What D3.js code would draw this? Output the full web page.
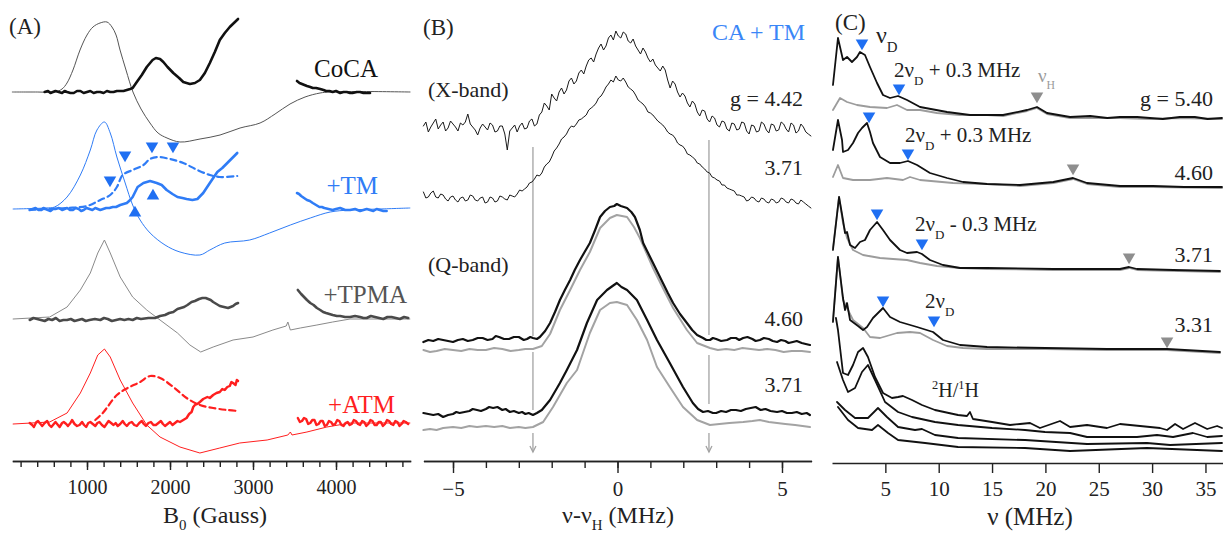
<!DOCTYPE html>
<html><head><meta charset="utf-8">
<script src="https://cdn.jsdelivr.net/npm/d3@7"></script>
<style>body{margin:0;background:#fff} text{font-family:"Liberation Serif","Times New Roman",Tinos,serif}</style>
</head><body><svg id="c" width="1223" height="535"></svg>
<script>
// ---------------- Panel A data: B0 (Gauss), intensity relative to each trace's baseline
const aOffsets = {CoCA:369, TM:252, TPMA:142, ATM:37};
const cocaThin = [[100,0],[400,0],[614,0],[699,3],[759,9],[831,22],[916,42],[1000,57],[1072,65],[1157,69],[1241,70],[1301,65],[1350,57],[1398,42],[1470,22],[1554,0],[1651,-17],[1759,-31],[1856,-41],[1964,-46],[2121,-50],[2362,-47],[2603,-43],[2844,-36],[3085,-31],[3266,-22],[3446,-12],[3627,-5],[3808,-1],[3928,0],[4290,0.5],[4892,0]];
const cocaThick1 = [[490,0],[530,1],[560,-1],[590,0],[620,1],[660,0],[700,-1],[730,1],[760,0],[800,-1],[840,-1],[880,1],[920,1],[960,-1],[1000,0],[1040,1],[1080,-1],[1120,0],[1160,0],[1200,-1],[1240,1],[1280,0],[1320,0],[1360,1],[1400,1],[1440,1],[1480,2],[1520,3],[1550,4],[1600,10],[1660,17],[1720,25],[1790,32],[1830,34],[1880,33],[1920,30],[1970,25],[2040,19],[2110,14],[2160,10],[2240,8],[2300,9],[2360,12],[2420,19],[2480,29],[2540,40],[2600,52],[2660,59],[2720,65],[2770,69],[2820,73]];
const cocaThick2 = [[3530,11],[3560,9],[3590,8],[3620,7],[3650,6],[3690,5],[3720,4],[3760,4],[3810,3],[3850,2],[3880,1],[3920,1],[3960,0],[4000,1],[4050,-1],[4090,0],[4130,0],[4170,-1],[4200,-1],[4250,0],[4290,0],[4330,-1],[4370,-1],[4410,-1]];
const tmThin = [[110,0],[500,1],[610,2],[760,12],[920,34],[1040,59],[1120,79],[1210,87],[1280,76],[1360,52],[1460,26],[1550,4],[1640,-11],[1760,-24],[1940,-36],[2120,-43],[2360,-46],[2480,-41],[2660,-34],[2960,-31],[3200,-24],[3450,-16],[3690,-9],[3930,-3],[4170,-1],[4530,0],[4890,1]];
const tmThick1 = [[310,-1],[345,0],[380,1],[415,-1],[450,-1],[475,1],[500,0],[530,-1],[560,-2],[590,0],[620,0],[660,1],[700,-1],[730,0],[760,1],[795,-1],[830,-1],[865,1],[900,0],[930,-2],[960,-1],[995,1],[1030,0],[1065,-1],[1100,1],[1130,0],[1160,-1],[1195,0],[1230,1],[1270,1],[1310,2],[1350,2],[1400,4],[1440,5],[1480,6],[1520,9],[1550,12],[1610,22],[1680,26],[1760,28],[1840,26],[1900,24],[1960,19],[2030,15],[2090,12],[2150,11],[2200,10],[2270,9],[2330,10],[2400,16],[2480,26],[2570,37],[2630,41],[2690,46],[2750,51],[2810,56]];
const tmThick2 = [[3530,16],[3555,15],[3580,13],[3615,11],[3650,9],[3685,8],[3720,6],[3760,4],[3800,2],[3830,2],[3860,1],[3910,0],[3960,-1],[4000,0],[4050,1],[4110,-1],[4170,-1],[4230,0],[4290,-2],[4330,-1],[4370,0],[4410,-1],[4450,-2],[4490,0],[4530,-1],[4570,-2],[4610,-2]];
const tmDashed = [[310,-1],[500,0],[760,1],[1000,3],[1160,9],[1280,14],[1360,22],[1430,34],[1550,39],[1680,44],[1760,50],[1860,52],[2000,50],[2160,46],[2330,39],[2480,34],[2600,32],[2810,33]];
const tmTriDown = [[1458,306],[1783,315],[2036,315],[1277,281]];
const tmTriUp = [[1795,265],[1578,248]];
const tpmaThin = [[110,0],[550,2],[760,12],[920,29],[1040,46],[1130,66],[1210,79],[1280,66],[1400,42],[1550,22],[1720,9],[1880,-1],[2090,-14],[2240,-26],[2370,-33],[2520,-28],[2760,-21],[3000,-18],[3240,-11],[3400,-7],[3420,-3],[3450,-11],[3570,-9],[3770,-6],[3960,-3],[4170,0],[4890,0]];
const tpmaThick1 = [[310,-1],[355,1],[400,0],[445,-1],[490,-2],[535,0],[580,-1],[625,1],[670,-2],[715,-1],[760,-1],[805,0],[850,-2],[895,-1],[940,0],[985,-2],[1030,-1],[1095,0],[1160,-1],[1205,1],[1250,0],[1300,-2],[1350,-1],[1400,0],[1450,-1],[1500,0],[1550,-1],[1600,1],[1650,0],[1740,1],[1820,1],[1880,3],[1940,4],[1990,6],[2040,7],[2090,10],[2130,11],[2170,12],[2210,14],[2260,17],[2300,18],[2350,20],[2390,21],[2430,21],[2460,20],[2490,19],[2520,17],[2560,15],[2600,13],[2650,12],[2700,11],[2730,12],[2760,13],[2790,15],[2820,16]];
const tpmaThick2 = [[3540,29],[3560,27],[3580,25],[3615,22],[3650,19],[3690,16],[3730,14],[3770,11],[3810,9],[3845,7],[3880,6],[3920,5],[3960,4],[4010,3],[4050,3],[4110,2],[4170,2],[4230,3],[4290,2],[4330,1],[4370,1],[4420,3],[4470,2],[4520,1],[4570,0],[4620,2],[4670,2],[4720,1],[4770,0],[4820,2],[4870,1]];
const atmThin = [[110,0],[550,2],[760,11],[920,31],[1040,51],[1130,69],[1210,75],[1280,67],[1400,44],[1550,21],[1720,-1],[1880,-13],[2120,-23],[2360,-29],[2600,-24],[2840,-19],[3170,-16],[3420,-11],[3450,-8],[3470,-11],[3650,-8],[3890,-3],[4170,1],[4890,1]];
const atmThick1 = [[310,1],[340,-1],[360,-3],[390,2],[410,3],[440,0],[460,-2],[490,1],[520,3],[545,-1],[570,-3],[600,0],[620,2],[650,-1],[670,-3],[700,1],[720,2],[750,0],[770,-2],[800,1],[820,4],[850,0],[880,-2],[910,-1],[940,2],[965,-1],[990,-3],[1015,1],[1040,2],[1070,0],[1100,-2],[1125,1],[1150,2],[1180,-1],[1210,-3],[1235,0],[1260,3],[1290,1],[1320,-1],[1345,1],[1370,-2],[1400,0],[1430,3],[1455,0],[1480,-2],[1510,1],[1540,2],[1570,-1],[1600,-2],[1630,1],[1660,3],[1685,0],[1710,-2],[1740,1],[1770,2],[1800,-1],[1830,-1],[1860,1],[1890,3],[1915,0],[1940,-2],[1970,0],[2000,2],[2030,-1],[2060,1],[2090,3],[2120,2],[2160,4],[2200,6],[2230,10],[2260,12],[2280,17],[2300,19],[2330,20],[2360,22],[2400,25],[2450,27],[2480,26],[2520,29],[2560,31],[2600,32],[2630,35],[2660,34],[2690,37],[2720,38],[2740,42],[2760,41],[2790,39],[2805,44],[2820,43]];
const atmThick2 = [[3540,6],[3565,2],[3590,3],[3615,6],[3640,5],[3665,0],[3690,1],[3715,4],[3740,4],[3765,-1],[3790,0],[3815,3],[3840,3],[3865,-2],[3890,-1],[3915,3],[3940,2],[3965,-1],[3990,0],[4015,4],[4040,3],[4065,-1],[4090,-2],[4115,1],[4140,2],[4165,-1],[4190,0],[4215,4],[4240,3],[4265,0],[4290,-1],[4315,3],[4340,2],[4365,-2],[4390,0],[4415,4],[4440,3],[4465,-1],[4490,-1],[4515,2],[4540,2],[4565,-2],[4590,0],[4615,4],[4640,3],[4665,0],[4690,-1],[4715,3],[4740,2],[4765,-2],[4790,0],[4815,3],[4840,2],[4870,0]];
const atmDashed = [[1100,4],[1190,11],[1360,29],[1490,36],[1640,42],[1760,48],[1880,46],[2040,37],[2200,26],[2360,19],[2520,16],[2690,14],[2820,13]];
const aMinorTicks = d3.range(200, 4801, 200);
const aMajorTicks = [1000, 2000, 3000, 4000];

// ---------------- Panel B data: nu - nu_H (MHz)
const bOffsets = {x442:333, x371:261, q460:119, q371:48};
const xband442 = [[-5.900,2],[-5.825,6],[-5.750,-4],[-5.675,1],[-5.600,5],[-5.525,9],[-5.450,-1],[-5.375,3],[-5.300,6],[-5.225,-3],[-5.150,0],[-5.075,7],[-5.000,4],[-4.925,1],[-4.850,-3],[-4.775,5],[-4.700,3],[-4.625,6],[-4.550,14],[-4.475,4],[-4.400,1],[-4.325,-2],[-4.250,-7],[-4.175,0],[-4.100,4],[-4.025,1],[-3.950,-2],[-3.875,5],[-3.800,3],[-3.725,-4],[-3.650,-3],[-3.575,2],[-3.500,2],[-3.425,-6],[-3.350,-22],[-3.275,-3],[-3.200,0],[-3.125,3],[-3.050,-4],[-2.975,2],[-2.900,5],[-2.825,-1],[-2.750,0],[-2.675,7],[-2.600,9],[-2.525,2],[-2.450,4],[-2.375,13],[-2.300,16],[-2.225,25],[-2.150,22],[-2.075,18],[-2.000,34],[-1.925,30],[-1.850,27],[-1.775,36],[-1.700,40],[-1.625,34],[-1.550,38],[-1.475,47],[-1.400,50],[-1.325,44],[-1.250,47],[-1.175,55],[-1.100,58],[-1.025,54],[-0.950,62],[-0.875,68],[-0.800,70],[-0.725,66],[-0.650,74],[-0.575,80],[-0.500,84],[-0.425,78],[-0.350,82],[-0.275,90],[-0.200,93],[-0.125,88],[-0.050,97],[0.025,92],[0.100,90],[0.175,96],[0.250,94],[0.325,87],[0.400,85],[0.475,89],[0.550,82],[0.625,78],[0.700,74],[0.775,80],[0.850,76],[0.925,70],[1.000,66],[1.075,69],[1.150,63],[1.225,60],[1.300,57],[1.375,62],[1.450,58],[1.525,48],[1.600,40],[1.675,47],[1.750,44],[1.825,36],[1.900,31],[1.975,35],[2.050,32],[2.125,25],[2.200,21],[2.275,27],[2.350,24],[2.425,16],[2.500,12],[2.575,18],[2.650,17],[2.725,9],[2.800,6],[2.875,12],[2.950,10],[3.025,3],[3.100,1],[3.175,7],[3.250,6],[3.325,-1],[3.400,-3],[3.475,5],[3.550,4],[3.625,-2],[3.700,-1],[3.775,6],[3.850,5],[3.925,-3],[4.000,-6],[4.075,3],[4.150,2],[4.225,-4],[4.300,-3],[4.375,6],[4.450,4],[4.525,-2],[4.600,-5],[4.675,4],[4.750,3],[4.825,-3],[4.900,-2],[4.975,6],[5.050,4],[5.125,-1],[5.200,-4],[5.275,5],[5.350,3],[5.425,-5],[5.500,-3],[5.575,4],[5.650,1],[5.725,-4],[5.800,-6],[5.880,-8]];
const xband371 = [[-5.900,8],[-5.825,2],[-5.750,3],[-5.675,7],[-5.600,9],[-5.525,3],[-5.450,2],[-5.375,6],[-5.300,5],[-5.225,1],[-5.150,-1],[-5.075,3],[-5.000,4],[-4.925,0],[-4.850,-2],[-4.775,2],[-4.700,3],[-4.625,-1],[-4.550,0],[-4.475,5],[-4.400,4],[-4.325,0],[-4.250,-1],[-4.175,2],[-4.100,3],[-4.025,-3],[-3.950,-2],[-3.875,3],[-3.800,2],[-3.725,-2],[-3.650,-1],[-3.575,4],[-3.500,3],[-3.425,1],[-3.350,0],[-3.275,5],[-3.200,4],[-3.125,3],[-3.050,6],[-2.975,10],[-2.900,9],[-2.825,11],[-2.750,13],[-2.675,17],[-2.600,18],[-2.525,21],[-2.450,25],[-2.375,24],[-2.300,27],[-2.225,33],[-2.150,36],[-2.075,38],[-2.000,43],[-1.925,49],[-1.850,52],[-1.775,56],[-1.700,61],[-1.625,63],[-1.550,66],[-1.475,71],[-1.400,74],[-1.325,73],[-1.250,76],[-1.175,80],[-1.100,81],[-1.025,83],[-0.950,85],[-0.875,90],[-0.800,92],[-0.725,94],[-0.650,97],[-0.575,102],[-0.500,104],[-0.425,108],[-0.350,113],[-0.275,116],[-0.200,120],[-0.125,118],[-0.050,124],[0.025,120],[0.100,119],[0.175,122],[0.250,118],[0.325,113],[0.400,111],[0.475,109],[0.550,105],[0.625,100],[0.700,98],[0.775,96],[0.850,93],[0.925,88],[1.000,87],[1.075,85],[1.150,82],[1.225,79],[1.300,77],[1.375,75],[1.450,72],[1.525,68],[1.600,66],[1.675,65],[1.750,62],[1.825,57],[1.900,55],[1.975,54],[2.050,51],[2.125,46],[2.200,45],[2.275,43],[2.350,41],[2.425,37],[2.500,36],[2.575,33],[2.650,31],[2.725,28],[2.800,27],[2.875,23],[2.950,22],[3.025,20],[3.100,19],[3.175,15],[3.250,15],[3.325,12],[3.400,11],[3.475,10],[3.550,9],[3.625,5],[3.700,5],[3.775,4],[3.850,3],[3.925,-1],[4.000,0],[4.075,3],[4.150,2],[4.225,-1],[4.300,-2],[4.375,2],[4.450,1],[4.525,-2],[4.600,-3],[4.675,1],[4.750,0],[4.825,-3],[4.900,-2],[4.975,2],[5.050,1],[5.125,-2],[5.200,-3],[5.275,1],[5.350,0],[5.425,-3],[5.500,-4],[5.575,0],[5.650,-2],[5.725,-4],[5.800,-6],[5.880,-8]];
const q460Black = [[-5.9,0],[-5.75,2],[-5.6,1],[-5.45,3],[-5.3,2],[-5.15,1],[-5.0,0],[-4.85,2],[-4.7,3],[-4.55,1],[-4.4,2],[-4.25,4],[-4.1,4],[-3.95,2],[-3.8,3],[-3.7,6],[-3.6,5],[-3.45,3],[-3.3,3],[-3.15,5],[-3.0,5],[-2.85,2],[-2.75,3],[-2.65,5],[-2.57,4],[-2.45,3],[-2.36,5],[-2.2,11],[-2.05,19],[-1.9,30],[-1.75,42],[-1.6,52],[-1.44,62],[-1.3,72],[-1.14,82],[-1.0,90],[-0.84,99],[-0.68,112],[-0.53,125],[-0.38,131],[-0.23,135],[-0.1,136],[-0.02,138],[0.1,136],[0.29,134],[0.42,130],[0.53,125],[0.68,112],[0.78,99],[0.93,89],[1.08,79],[1.23,69],[1.38,59],[1.53,49],[1.69,39],[1.9,28],[2.11,19],[2.27,12],[2.42,7],[2.6,4],[2.7,2],[2.81,2],[2.9,4],[3.0,3],[3.15,1],[3.33,2],[3.45,4],[3.6,4],[3.7,2],[3.82,4],[3.95,5],[4.1,3],[4.2,1],[4.33,2],[4.45,4],[4.6,3],[4.72,1],[4.85,0],[4.97,2],[5.1,1],[5.2,-1],[5.33,0],[5.45,1],[5.6,-1],[5.72,-2],[5.85,-3]];
const q460Gray = [[-5.9,-8],[-5.7,-10],[-5.5,-9],[-5.25,-7],[-5.0,-8],[-4.75,-9],[-4.5,-7],[-4.25,-8],[-4.0,-8],[-3.75,-6],[-3.5,-7],[-3.25,-9],[-3.0,-8],[-2.8,-7],[-2.57,-7],[-2.3,-4],[-2.05,8],[-1.75,32],[-1.44,52],[-1.14,72],[-0.84,90],[-0.53,114],[-0.23,124],[-0.02,127],[0.29,125],[0.5,115],[0.68,104],[1.08,74],[1.38,54],[1.69,34],[2.11,12],[2.42,-1],[2.81,-6],[3.05,-8],[3.3,-7],[3.55,-8],[3.8,-6],[4.05,-7],[4.3,-8],[4.55,-7],[4.8,-8],[5.05,-10],[5.3,-9],[5.6,-9],[5.85,-10]];
const q371Black = [[-5.9,0],[-5.75,-1],[-5.6,-2],[-5.45,-1],[-5.3,-4],[-5.15,-2],[-5.0,-1],[-4.9,1],[-4.8,0],[-4.65,1],[-4.5,2],[-4.4,4],[-4.27,3],[-4.15,2],[-4.0,4],[-3.9,6],[-3.78,5],[-3.65,6],[-3.5,3],[-3.4,4],[-3.27,1],[-3.15,2],[-3.0,0],[-2.9,1],[-2.8,-1],[-2.7,0],[-2.57,-2],[-2.45,0],[-2.3,3],[-2.05,13],[-1.75,30],[-1.54,43],[-1.23,63],[-0.93,90],[-0.62,113],[-0.32,123],[-0.15,127],[-0.02,130],[0.12,126],[0.29,123],[0.59,113],[0.9,93],[1.2,73],[1.59,50],[1.99,26],[2.29,10],[2.45,4],[2.6,1],[2.75,2],[2.9,0],[3.0,0],[3.15,2],[3.3,1],[3.45,3],[3.6,3],[3.75,2],[3.9,4],[4.05,5],[4.2,6],[4.35,3],[4.5,4],[4.65,2],[4.85,1],[5.0,2],[5.15,0],[5.3,0],[5.45,1],[5.6,-1],[5.75,0],[5.85,-2]];
const q371Gray = [[-5.9,-17],[-5.7,-16],[-5.5,-17],[-5.3,-15],[-5.0,-14],[-4.75,-15],[-4.5,-13],[-4.27,-14],[-4.0,-13],[-3.75,-14],[-3.5,-13],[-3.27,-15],[-3.0,-14],[-2.8,-15],[-2.57,-14],[-2.26,-9],[-1.96,6],[-1.54,30],[-1.23,43],[-0.84,80],[-0.53,103],[-0.23,110],[-0.02,111],[0.29,108],[0.59,93],[0.9,73],[1.2,46],[1.59,26],[1.99,6],[2.42,-7],[2.81,-12],[3.1,-11],[3.4,-10],[3.82,-9],[4.1,-8],[4.33,-7],[4.6,-9],[4.85,-10],[5.1,-11],[5.4,-12],[5.85,-14]];
const bMarkers = [-2.57, 2.78];
const bTicks = d3.range(-5, 6, 1);
const bMajorTicks = [-5, 0, 5];

// ---------------- Panel C data: nu (MHz)
const cOffsets = {g540:343, g460:274, g371:191, g331:111, hA:36, hB:28, hC:18, hD:12};
const c540Black = [[0.09,33],[0.56,80],[1.03,58],[1.41,61],[1.87,56],[2.34,61],[2.62,66],[3.09,63],[3.56,51],[4.22,35],[4.78,23],[5.44,20],[6.19,22],[7.03,18],[8.25,11],[10.78,6],[12.93,3],[16.03,3],[18.28,8],[19.21,11],[20.15,5],[22.31,1],[24.2,2],[25.8,0],[26.99,1],[28.6,1],[29.8,0],[31.0,-1],[32.6,1],[34.0,1],[35.2,-1],[36.55,0]];
const c540Gray = [[0.09,8],[0.75,20],[1.41,16],[2.34,13],[3.56,11],[5.15,10],[6.09,13],[7.03,8],[8.25,8],[9.84,5],[12.0,3],[14.53,3],[16.03,2],[18.28,7],[19.21,10],[20.15,4],[22.31,0],[26.99,0],[29.8,-1],[32.6,0],[36.55,-1]];
const c460Black = [[0.09,37],[0.56,67],[0.94,47],[1.03,35],[1.5,37],[1.97,44],[2.44,54],[2.81,59],[3.28,64],[3.56,55],[3.84,44],[4.5,30],[5.44,24],[6.37,24],[7.12,26],[7.97,22],[9.18,14],[10.78,9],[12.28,5],[14.53,3],[17.62,2],[20.74,5],[22.59,9],[23.9,4],[26.99,1],[30.08,1],[33.0,0],[36.55,0]];
const c460Gray = [[0.09,10],[0.56,22],[1.03,9],[1.97,7],[3.56,7],[5.15,9],[6.65,7],[7.31,10],[8.25,7],[11.34,4],[14.53,3],[17.62,1],[20.74,4],[22.59,8],[23.9,3],[26.99,0],[30.08,0],[36.55,-1]];
const c371Black = [[0.09,20],[0.66,73],[1.03,50],[1.22,37],[1.41,38],[1.69,25],[2.16,22],[2.62,28],[3.09,30],[3.56,40],[4.22,48],[4.78,40],[5.44,30],[6.37,20],[7.03,17],[7.97,18],[8.43,16],[9.18,10],[10.4,5],[12.0,2],[14.53,2],[20.74,1],[26.99,1],[27.84,3],[28.58,1],[32.0,0],[36.36,-1]];
const c371Gray = [[0.09,22],[0.66,73],[1.03,47],[1.41,32],[1.97,20],[2.91,15],[4.5,12],[5.72,11],[7.03,10],[8.25,7],[9.84,4],[12.0,2],[14.53,1],[20.74,0],[26.99,0],[27.84,2],[28.58,0],[36.36,-2]];
const c331Black = [[0.09,28],[0.56,93],[1.03,52],[1.22,40],[1.41,47],[1.69,30],[2.44,24],[2.91,20],[3.28,23],[3.84,32],[4.78,42],[5.44,33],[6.37,28],[7.97,23],[9.47,18],[10.4,10],[12.0,5],[14.53,3],[20.0,2],[25.77,1],[31.4,1],[36.36,-2]];
const c331Gray = [[0.09,30],[0.56,93],[1.03,50],[1.97,30],[2.91,22],[3.56,13],[4.5,12],[6.09,17],[7.31,18],[8.25,17],[9.47,10],[10.78,4],[12.28,2],[14.53,1],[20.0,1],[25.77,0],[31.4,0],[36.36,-3]];
const hA = [[0.37,107],[0.56,95],[1.03,52],[1.5,50],[1.97,60],[2.44,73],[2.91,77],[3.37,68],[4.03,48],[4.78,32],[5.62,27],[6.19,28],[6.65,29],[7.5,25],[8.43,20],[9.65,15],[11.81,10],[12.65,9],[12.93,13],[13.21,6],[15.0,3],[16.68,0],[17.62,1],[18.56,2],[19.49,-3],[21.37,4],[22.31,-2],[23.9,0],[25.77,-3],[26.99,1],[28.87,-1],[30.74,-3],[31.4,-5],[32.15,1],[32.9,-4],[34.02,2],[35.16,-4],[36.09,-1],[36.55,-3]];
const hB = [[0.47,71],[1.03,53],[1.5,41],[2.16,45],[2.81,61],[3.37,68],[4.03,53],[4.97,31],[6.19,21],[7.5,16],[9.65,11],[11.81,8],[15.0,5],[18.09,3],[19.96,1],[22.31,0],[23.9,-4],[28.58,-4],[30.46,-2],[31.96,-4],[33.83,0],[35.16,-4],[36.55,-3]];
const hC = [[0.47,41],[1.22,33],[2.16,25],[3.37,25],[3.94,31],[4.31,35],[5.15,26],[6.19,16],[7.78,13],[8.43,14],[9.65,8],[11.81,5],[18.09,3],[23.9,-1],[29.52,0],[31.68,-2],[36.55,0]];
const hD = [[0.56,42],[1.5,29],[2.44,21],[3.75,19],[4.31,24],[5.25,16],[6.19,9],[8.72,6],[11.81,2],[18.09,1],[22.31,-2],[29.52,1],[36.55,-2]];
const cTriBlue = [[2.81,418],[6.28,373],[3.47,345],[7.12,308],[4.22,248],[8.43,218],[4.78,161],[9.56,141]];
const cTriGray = [[19.21,365],[22.59,293],[27.84,204],[31.40,120]];
const cTicks = [5, 10, 15, 20, 25, 30, 35];

// ---------------- drawing
const svg = d3.select("#c");
const y = d3.scaleLinear().domain([0, 460]).range([461, 1]);
const xA = d3.scaleLinear().domain([100, 4900]).range([12.3, 410.7]);
const xB = d3.scaleLinear().domain([-5.9, 5.9]).range([423.4, 811.6]);
const xC = d3.scaleLinear().domain([0, 36.7]).range([832, 1223.6]);

const BLUE = "#2f7cf6", RED = "#ff1f1f", DGRAY = "#4a4a4a", LGRAY = "#a3a3a3";

function trace(xs, data, off, color, w, opt = {}) {
  const line = d3.line().x(d => xs(d[0])).y(d => y(d[1] + off))
    .curve(opt.curve || d3.curveLinear);
  svg.append("path").attr("d", line(data)).attr("fill", "none")
    .attr("stroke", color).attr("stroke-width", w)
    .attr("stroke-linejoin", "round").attr("stroke-linecap", "round")
    .attr("stroke-dasharray", opt.dash || null);
}
function tris(xs, data, color, down) {
  svg.append("g").selectAll("path").data(data).join("path")
    .attr("d", d3.symbol(d3.symbolTriangle, 68)())
    .attr("transform", d => `translate(${xs(d[0])},${y(d[1])}) rotate(${down ? 180 : 0})`)
    .attr("fill", color);
}
function txt(x, yy, s, size, color, anchor) {
  return svg.append("text").attr("x", x).attr("y", yy).attr("font-size", size)
    .attr("fill", color || "#222").attr("text-anchor", anchor || "start").text(s);
}
function subText(x, yy, parts, size, color, anchor, subShift) {
  const t = svg.append("text").attr("x", x).attr("y", yy).attr("font-size", size)
    .attr("fill", color || "#222").attr("text-anchor", anchor || "start");
  const k = subShift || 0.38;
  let shift = 0;
  parts.forEach(([s, m]) => {
    const target = m === "s" ? size * k : m === "p" ? -size * 0.38 : 0;
    t.append("tspan").attr("dy", target - shift)
      .attr("font-size", m === "n" ? size : size * 0.62).text(s);
    shift = target;
  });
  return t;
}
const smooth = d3.curveCatmullRom.alpha(0.5);

// ---- Panel A
const gAminor = svg.append("g").attr("transform", "translate(0,461)")
  .call(d3.axisBottom(xA).tickValues(aMinorTicks).tickSize(6).tickSizeOuter(0).tickFormat(""));
const gAmajor = svg.append("g").attr("transform", "translate(0,461)")
  .call(d3.axisBottom(xA).tickValues(aMajorTicks).tickSize(9).tickSizeOuter(0).tickPadding(10).tickFormat(d3.format("d")));
[gAminor, gAmajor].forEach(g => {
  g.attr("font-family", null);
  g.selectAll("path,line").attr("stroke", "#222").attr("stroke-width", 1.4);
  g.selectAll("text").attr("font-size", 20).attr("fill", "#222");
});

trace(xA, cocaThin, aOffsets.CoCA, "#555", 1, {curve: smooth});
trace(xA, cocaThick1, aOffsets.CoCA, "#111", 2.6);
trace(xA, cocaThick2, aOffsets.CoCA, "#111", 2.6);
trace(xA, tmThin, aOffsets.TM, BLUE, 1, {curve: smooth});
trace(xA, tmDashed, aOffsets.TM, BLUE, 2.2, {curve: smooth, dash: "6,4"});
trace(xA, tmThick1, aOffsets.TM, BLUE, 2.6);
trace(xA, tmThick2, aOffsets.TM, BLUE, 2.6);
tris(xA, tmTriDown, "#1f6ff2", true);
tris(xA, tmTriUp, "#1f6ff2", false);
trace(xA, tpmaThin, aOffsets.TPMA, "#8a8a8a", 1);
trace(xA, tpmaThick1, aOffsets.TPMA, DGRAY, 2.6);
trace(xA, tpmaThick2, aOffsets.TPMA, DGRAY, 2.6);
trace(xA, atmThin, aOffsets.ATM, RED, 1);
trace(xA, atmDashed, aOffsets.ATM, RED, 2.2, {curve: smooth, dash: "6,4"});
trace(xA, atmThick1, aOffsets.ATM, RED, 2.4);
trace(xA, atmThick2, aOffsets.ATM, RED, 2.4);

txt(9, 34, "(A)", 23, "#222");
txt(378, 77, "CoCA", 25, "#111", "end");
txt(378, 194, "+TM", 25, BLUE, "end");
txt(407, 303, "+TPMA", 25, "#555", "end");
txt(395, 413, "+ATM", 25, RED, "end");
subText(215, 523, [["B", "n"], ["0", "s"], [" (Gauss)", "n"]], 24, "#222", "middle", 0.3);

// ---- Panel B
const gBminor = svg.append("g").attr("transform", "translate(0,461)")
  .call(d3.axisBottom(xB).tickValues(bTicks).tickSize(7).tickSizeOuter(0).tickFormat(""));
const gBmajor = svg.append("g").attr("transform", "translate(0,461)")
  .call(d3.axisBottom(xB).tickValues(bMajorTicks).tickSize(12).tickSizeOuter(0).tickPadding(8).tickFormat(d3.format("d")));
[gBminor, gBmajor].forEach(g => {
  g.attr("font-family", null);
  g.selectAll("path,line").attr("stroke", "#222").attr("stroke-width", 1.4);
  g.selectAll("text").attr("font-size", 21).attr("fill", "#222");
});

const markerSpans = [[[314, 125], [109, 51], [28, 9]], [[321, 126], [106, 57], [28, 9]]];
bMarkers.forEach((m, i) => {
  markerSpans[i].forEach(s => {
    svg.append("line").attr("x1", xB(m)).attr("x2", xB(m)).attr("y1", y(s[0])).attr("y2", y(s[1]))
      .attr("stroke", LGRAY).attr("stroke-width", 1.3);
  });
  svg.append("path").attr("d", `M${xB(m) - 3},${y(15)} L${xB(m)},${y(9)} L${xB(m) + 3},${y(15)}`)
    .attr("fill", "none").attr("stroke", LGRAY).attr("stroke-width", 1.3);
});

trace(xB, xband442, bOffsets.x442, "#1a1a1a", 1);
trace(xB, xband371, bOffsets.x371, "#1a1a1a", 1);
trace(xB, q460Gray, bOffsets.q460, LGRAY, 2);
trace(xB, q460Black, bOffsets.q460, "#111", 2.2);
trace(xB, q371Gray, bOffsets.q371, LGRAY, 2);
trace(xB, q371Black, bOffsets.q371, "#111", 2.2);

txt(423, 35, "(B)", 23, "#222");
txt(805, 40, "CA + TM", 24, "#3a86f7", "end");
txt(428, 97, "(X-band)", 22, "#222");
txt(803, 106, "g = 4.42", 22, "#222", "end");
txt(803, 175, "3.71", 22, "#222", "end");
txt(428, 272, "(Q-band)", 22, "#222");
txt(803, 326, "4.60", 22, "#222", "end");
txt(803, 392, "3.71", 22, "#222", "end");
subText(618, 523, [["ν-ν", "n"], ["H", "s"], [" (MHz)", "n"]], 24, "#222", "middle", 0.3);

// ---- Panel C
const gC = svg.append("g").attr("transform", "translate(0,463)")
  .call(d3.axisBottom(xC).tickValues(cTicks).tickSize(10).tickSizeOuter(0).tickPadding(8).tickFormat(d3.format("d")));
gC.attr("font-family", null);
gC.selectAll("path,line").attr("stroke", "#222").attr("stroke-width", 1.4);
gC.selectAll("text").attr("font-size", 21).attr("fill", "#222");

trace(xC, c540Gray, cOffsets.g540, "#9c9c9c", 1.8);
trace(xC, c540Black, cOffsets.g540, "#111", 1.8);
trace(xC, c460Gray, cOffsets.g460, "#9c9c9c", 1.8);
trace(xC, c460Black, cOffsets.g460, "#111", 1.8);
trace(xC, c371Gray, cOffsets.g371, "#9c9c9c", 1.8);
trace(xC, c371Black, cOffsets.g371, "#111", 1.8);
trace(xC, c331Gray, cOffsets.g331, "#9c9c9c", 1.8);
trace(xC, c331Black, cOffsets.g331, "#111", 1.8);
trace(xC, hA, cOffsets.hA, "#111", 1.8);
trace(xC, hB, cOffsets.hB, "#111", 1.8);
trace(xC, hC, cOffsets.hC, "#111", 1.8);
trace(xC, hD, cOffsets.hD, "#111", 1.8);
tris(xC, cTriBlue, "#1f6ff2", true);
tris(xC, cTriGray, "#8e8e8e", true);

txt(835, 30, "(C)", 23, "#222");
subText(876, 43, [["ν", "n"], ["D", "s"]], 24, "#222");
subText(894, 77, [["2ν", "n"], ["D", "s"], [" + 0.3 MHz", "n"]], 21, "#222");
subText(1038, 82, [["ν", "n"], ["H", "s"]], 19, "#9a9a9a");
txt(1213, 106, "g = 5.40", 22, "#222", "end");
subText(905, 142, [["2ν", "n"], ["D", "s"], [" + 0.3 MHz", "n"]], 21, "#222");
txt(1213, 180, "4.60", 22, "#222", "end");
subText(915, 231, [["2ν", "n"], ["D", "s"], [" - 0.3 MHz", "n"]], 21, "#222");
txt(1213, 262, "3.71", 22, "#222", "end");
subText(925, 308, [["2ν", "n"], ["D", "s"]], 21, "#222");
txt(1213, 332, "3.31", 22, "#222", "end");
subText(932, 397, [["2", "p"], ["H/", "n"], ["1", "p"], ["H", "n"]], 20, "#222");
subText(1030, 525, [["ν (MHz)", "n"]], 25, "#222", "middle");
</script></body></html>
